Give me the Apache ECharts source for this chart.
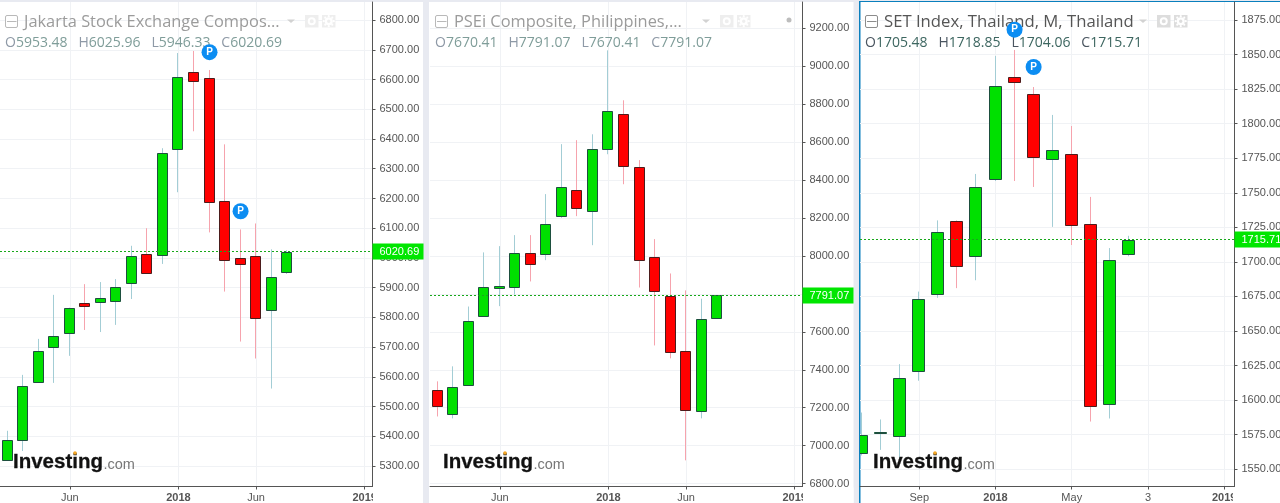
<!DOCTYPE html>
<html><head><meta charset="utf-8">
<style>html,body{margin:0;padding:0;background:#e8eaf1}#c{width:1280px;height:503px}</style>
<script src="https://cdn.jsdelivr.net/npm/echarts@6/dist/echarts.min.js"></script>
</head><body><div id="c"></div>
<script>
// ---- Jakarta Stock Exchange Composite, monthly
const jakartaMonths = ['Feb 2017','Mar 2017','Apr 2017','May 2017','Jun 2017','Jul 2017','Aug 2017','Sep 2017','Oct 2017','Nov 2017','Dec 2017','Jan 2018','Feb 2018','Mar 2018','Apr 2018','May 2018','Jun 2018','Jul 2018','Aug 2018'];
const jakartaOpen  = [5320,5387,5582,5702,5749,5849,5853,5857,5917,6014,6011,6365,6624,6604,6193,5999,6005,5826,5953.48];
const jakartaClose = [5387,5569,5686,5737,5831,5840,5864,5901,6005,5951,6353,6607,6596,6188,5994,5981,5799,5935,6020.69];
const jakartaLow   = [5318,5351,5580,5580,5671,5758,5751,5775,5862,5949,5980,6221,6426,6086,5887,5719,5662,5561,5946.33];
const jakartaHigh  = [5419,5607,5728,5876,5833,5912,5919,5929,6041,6100,6369,6689,6696,6632,6382,6096,6116,6029,6025.96];
const jakartaYTicks = [5300,5400,5500,5600,5700,5800,5900,6000,6100,6200,6300,6400,6500,6600,6700,6800];
const jakartaXTickAt = [4,11,16,23];
const jakartaXTickLabels = ['Jun','2018','Jun','2019'];
const jakartaMarkers = [[13,6692],[15,6157]];

// ---- PSEi Composite, Philippines, monthly
const pseiMonths = jakartaMonths;
const pseiOpen  = [7295,7167,7319,7682,7830,7835,8017,8010,8211,8344,8237,8565,8749,8470,7995,7790,7500,7182,7670.41];
const pseiClose = [7209,7311,7658,7837,7842,8016,7956,8170,8365,8253,8560,8765,8474,7977,7814,7493,7188,7668,7791.07];
const pseiLow   = [7154,7144,7319,7682,7735,7796,7865,7977,8200,8209,8056,8535,8377,7833,7528,7460,6923,7144,7670.41];
const pseiHigh  = [7339,7418,7733,8018,8051,8109,8109,8325,8588,8609,8640,9082,8819,8504,8088,7907,7818,7774,7791.07];
const pseiYTicks = [6800,7000,7200,7400,7600,7800,8000,8200,8400,8600,8800,9000,9200];
const pseiXTickAt = [4,11,16,23];
const pseiXTickLabels = ['Jun','2018','Jun','2019'];

// ---- SET Index, Thailand, monthly
const setMonths = ['Jun 2017','Jul 2017','Aug 2017','Sep 2017','Oct 2017','Nov 2017','Dec 2017','Jan 2018','Feb 2018','Mar 2018','Apr 2018','May 2018','Jun 2018','Jul 2018','Aug 2018'];
const setOpen  = [1562,1576.8,1574,1621,1677,1729.4,1704.4,1759.7,1833.5,1821.2,1774.7,1777.8,1727.2,1597,1705.48];
const setClose = [1575,1577.2,1616,1673.4,1721.4,1697,1754,1827,1830.4,1776.1,1780.7,1726.9,1595.7,1701.7,1715.71];
const setLow   = [1560,1564,1557.5,1614,1674,1681,1686.7,1758.5,1758.5,1754.2,1725.3,1712.2,1584.5,1586.7,1704.06];
const setHigh  = [1591,1586,1626,1678.5,1730,1730,1763.6,1849,1853.3,1826.5,1806.3,1798.3,1747,1710,1718.85];
const setYTicks = [1550,1575,1600,1625,1650,1675,1700,1725,1750,1775,1800,1825,1850,1875];
const setXTickAt = [3,7,11,15,19];
const setXTickLabels = ['Sep','2018','May','3','2019'];
const setMarkers = [[8,1868],[9,1841]];

const UP='#00e000', DOWN='#ff0000', UPB='#1d4f3e', DOWNB='#4c1c1c', UPW='#a3cdd5', DOWNW='#f6a3ad';
const TXT='#555555', GRIDC='#f0f2f5', TAG='#00e600', AX='#555555';

const panels = [
 {months:jakartaMonths,o:jakartaOpen,c:jakartaClose,l:jakartaLow,h:jakartaHigh,yt:jakartaYTicks,xa:jakartaXTickAt,xl:jakartaXTickLabels,mk:jakartaMarkers,
  left:0,right:372.5,xmin:-0.5,xmax:23.5,ymin:5231.7,ymax:6860.6,body:9,tagW:51,
  title:'Jakarta Stock Exchange Compos...',titleSize:16.4,ohlc:['5953.48','6025.96','5946.33','6020.69'],ohlcX:5,titleX:24,titleC:'#9b9b9b',labC:'#8e99a6',valC:'#7f9d99',icons:[5,287,305,322],iconA:'#eeeeee',iconB:'#b9b9b9'},
 {months:pseiMonths,o:pseiOpen,c:pseiClose,l:pseiLow,h:pseiHigh,yt:pseiYTicks,xa:pseiXTickAt,xl:pseiXTickLabels,mk:[],
  left:430,right:802.5,xmin:-0.5,xmax:23.5,ymin:6785.2,ymax:9336.6,body:9,tagW:51,
  title:'PSEi Composite, Philippines,...',titleSize:16.4,ohlc:['7670.41','7791.07','7670.41','7791.07'],ohlcX:435,titleX:454,titleC:'#9b9b9b',labC:'#8e99a6',valC:'#7f9d99',icons:[435,702,720,737],iconA:'#eeeeee',iconB:'#b9b9b9'},
 {months:setMonths,o:setOpen,c:setClose,l:setLow,h:setHigh,yt:setYTicks,xa:setXTickAt,xl:setXTickLabels,mk:setMarkers,
  left:860,right:1234.5,xmin:-0.11,xmax:19.54,ymin:1537.5,ymax:1888,body:11,tagW:46,
  title:'SET Index, Thailand, M, Thailand',titleSize:16.7,ohlc:['1705.48','1718.85','1704.06','1715.71'],ohlcX:865,titleX:884,titleC:'#555555',labC:'#4a5560',valC:'#3d6660',icons:[865,1139,1157,1174],iconA:'#dddddd',iconB:'#8c8c8c'}
];

const TOP=2, BOTTOM=486.5;
const grid=[],xAxis=[],yAxis=[],series=[],title=[],graphic=[];

// page panels
[[0,2,423,501],[429,2,424.5,501],[859,2,421,501]].forEach(r=>graphic.push({type:'rect',z:-100,silent:true,shape:{x:r[0],y:r[1],width:r[2],height:r[3]},style:{fill:'#fff'}}));
graphic.push({type:'rect',z:-99,silent:true,shape:{x:859,y:1,width:1.5,height:502},style:{fill:'#0a7fbd'}});
graphic.push({type:'rect',z:-99,silent:true,shape:{x:859,y:1,width:421,height:1},style:{fill:'#0a7fbd'}});

panels.forEach((p,i)=>{
 grid.push({left:p.left,top:TOP,width:p.right-p.left,height:BOTTOM-TOP,containLabel:false,outerBoundsMode:'none'});
 xAxis.push({type:'value',gridIndex:i,min:p.xmin,max:p.xmax,
   axisLine:{onZero:false,lineStyle:{color:AX,width:1}},
   axisTick:{show:true,length:3,lineStyle:{color:AX},customValues:p.xa},
   splitLine:{show:true,lineStyle:{color:GRIDC,width:1}},
   axisLabel:{customValues:p.xa,color:TXT,fontFamily:'Liberation Sans',fontSize:11,margin:6,
     formatter:(v)=>{const s=p.xl[p.xa.indexOf(v)];return /^20/.test(s)?'{b|'+s+'}':s;},
     rich:{b:{fontWeight:'bold',fontSize:11,fontFamily:'Liberation Sans',color:TXT}}}});
 yAxis.push({type:'value',gridIndex:i,position:'right',min:p.ymin,max:p.ymax,
   axisLine:{show:true,onZero:false,lineStyle:{color:AX,width:1}},
   axisTick:{show:true,length:3,lineStyle:{color:AX},customValues:p.yt},
   splitLine:{show:true,lineStyle:{color:GRIDC,width:1}},
   axisLabel:{customValues:p.yt,color:TXT,fontFamily:'Liberation Sans',fontSize:11,margin:7,padding:[2,0,0,0],formatter:v=>v.toFixed(2)}});

 // candles
 const rows=p.months.map((m,k)=>[k,p.o[k],p.c[k],p.l[k],p.h[k],m]);
 series.push({type:'custom',name:'candles'+i,xAxisIndex:i,yAxisIndex:i,clip:true,z:3,silent:true,animation:false,
   encode:{x:0,y:[1,2,3,4]},data:rows,
   renderItem:(params,api)=>{
     const k=api.value(0),o=api.value(1),c=api.value(2),lo=api.value(3),hi=api.value(4);
     const up=c>=o;
     const x=Math.round(api.coord([k,o])[0]-1)+0.5;
     const yT=Math.round(api.coord([k,Math.max(o,c)])[1])+0.5;
     const yB=Math.round(api.coord([k,Math.min(o,c)])[1])+0.5;
     const yH=api.coord([k,hi])[1], yL=api.coord([k,lo])[1];
     const w=p.body;
     return {type:'group',children:[
       {type:'line',shape:{x1:x,y1:yH,x2:x,y2:yL},style:{stroke:up?UPW:DOWNW,lineWidth:1}},
       {type:'rect',shape:{x:x-w/2-0.5,y:yT,width:w+1,height:Math.max(yB-yT,1)},style:{fill:up?UP:DOWN,stroke:up?UPB:DOWNB,lineWidth:1}}
     ]};
   }});

 // last price line + tag
 const last=p.c[p.c.length-1];
 series.push({type:'custom',name:'last'+i,xAxisIndex:i,yAxisIndex:i,clip:false,z:5,silent:true,animation:false,
   encode:{y:0},data:[[last]],
   renderItem:(params,api)=>{
     const y=api.coord([p.xmin,api.value(0)])[1];
     const yy=Math.floor(y-0.3)+0.5;
     const x0=p.left,x1=p.right;
     return {type:'group',children:[
       {type:'line',shape:{x1:x0,y1:yy,x2:x1,y2:yy},style:{stroke:'#17a81a',lineWidth:1,lineDash:[2,2]}},
       {type:'rect',shape:{x:x1,y:yy-8,width:p.tagW,height:16},style:{fill:TAG}},
       {type:'text',x:x1+7,y:yy+0.5,style:{text:api.value(0).toFixed(2),fill:'#fff',font:'11px "Liberation Sans"',textVerticalAlign:'middle'}}
     ]};
   }});

 // P markers
 if(p.mk.length) series.push({type:'scatter',name:'events'+i,xAxisIndex:i,yAxisIndex:i,z:10,silent:true,animation:false,clip:false,
   data:p.mk,symbol:'circle',symbolSize:16,itemStyle:{color:'#0c8df2',opacity:1},
   label:{show:true,position:'inside',formatter:'P',color:'#fff',fontWeight:'bold',fontSize:10,fontFamily:'Liberation Sans'}});

 // header texts
 title.push({text:p.title,left:p.titleX,top:14,padding:0,z:6,textStyle:{fontFamily:'Open Sans',fontSize:p.titleSize,fontWeight:'normal',color:p.titleC}});
 const s='   ';
 const pair=(a,b)=>'{l|'+a+'}{v|'+b+'}';
 title.push({text:pair('O',p.ohlc[0])+s+pair('H',p.ohlc[1])+s+pair('L',p.ohlc[2])+s+pair('C',p.ohlc[3]),left:p.ohlcX,top:36,padding:0,z:6,
   textStyle:{fontFamily:'Open Sans',fontSize:14,fontWeight:'normal',color:p.labC,
     rich:{l:{fontFamily:'Open Sans',fontSize:14,color:p.labC},v:{fontFamily:'Open Sans',fontSize:14,color:p.valC}}}});

 // header icons
 const [a,b,c,d]=p.icons;
 graphic.push({type:'rect',z:1,silent:true,shape:{x:a+0.5,y:15.5,width:12,height:12,r:1.5},style:{fill:'#fff',stroke:p.iconB,lineWidth:1}});
 graphic.push({type:'line',z:1,silent:true,shape:{x1:a+2,y1:21.5,x2:a+11.5,y2:21.5},style:{stroke:p.iconB,lineWidth:1}});
 graphic.push({type:'polygon',z:1,silent:true,shape:{points:[[b,19.5],[b+8,19.5],[b+4,23]]},style:{fill:'#d2d2d2'}});
 graphic.push({type:'rect',z:1,silent:true,shape:{x:c,y:15,width:13.5,height:12.5},style:{fill:p.iconA}});
 graphic.push({type:'ring',z:1,silent:true,shape:{cx:c+6.75,cy:21.2,r:4,r0:2},style:{fill:'#fff'}});
 graphic.push({type:'rect',z:1,silent:true,shape:{x:d,y:15,width:13.5,height:12.5},style:{fill:p.iconA}});
 graphic.push({type:'ring',z:1,silent:true,shape:{cx:d+6.75,cy:21.2,r:4,r0:1.7},style:{fill:'#fff'}});
 [[0,-5],[0,5],[-5,0],[5,0],[-3.5,-3.5],[3.5,3.5],[-3.5,3.5],[3.5,-3.5]].forEach(o=>graphic.push({type:'circle',z:1,silent:true,shape:{cx:d+6.75+o[0],cy:21.2+o[1],r:1.1},style:{fill:'#fff'}}));

 // Investing.com logo
 const lx=[13,443,873][i];
 graphic.push({type:'text',z:7,silent:true,x:lx,y:452,style:{text:'Investing',fill:'#111',font:'bold 20.5px "Liberation Sans"',stroke:'#222',lineWidth:0.3}});
 graphic.push({type:'text',z:7,silent:true,x:lx+90.5,y:457,style:{text:'.com',fill:'#777',font:'14.5px "Liberation Sans"'}});
 graphic.push({type:'circle',z:8,silent:true,shape:{cx:lx+62,cy:453,r:1.8},style:{fill:'#f5a623'}});

 // clip the axis text that runs out of the chart frame
 const ovx=[372.5,802.5,1232.5][i], ovr=[423,853.5,1280][i];
 graphic.push({type:'rect',z:20,silent:true,shape:{x:ovx+0.5,y:487.5,width:ovr-ovx-0.5,height:15.5},style:{fill:'#fff'}});
});

graphic.push({type:'circle',z:1,silent:true,shape:{cx:789,cy:20,r:2.5},style:{fill:'#bdbdbd'}});

const chart=echarts.init(document.getElementById('c'),null,{renderer:'canvas'});
chart.setOption({animation:false,backgroundColor:'#e8eaf1',grid,xAxis,yAxis,series,title,graphic:{elements:graphic},tooltip:{show:false},legend:{show:false}});
</script></body></html>
